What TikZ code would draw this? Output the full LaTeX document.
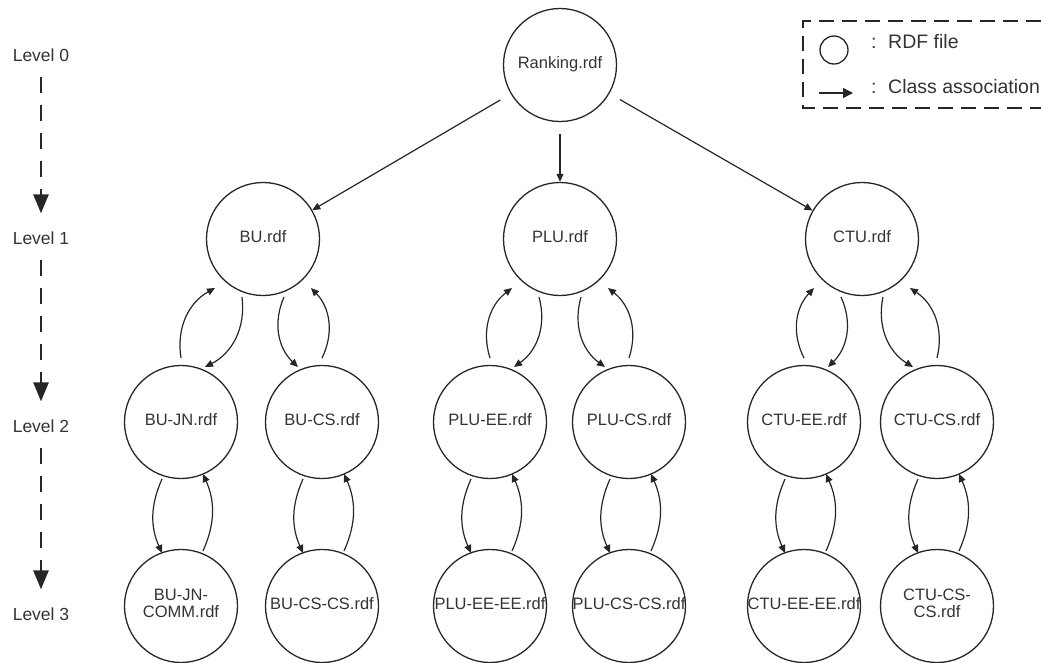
\documentclass[tikz,border=0pt]{standalone}
\usepackage{fontspec}
\setmainfont{Liberation Sans}
\usetikzlibrary{arrows.meta,calc}

% zero-width, centred (possibly two-line) file name inside a circle
\newcommand{\rdfname}[1]{\makebox[0pt][c]{\begin{tabular}{@{}c@{}}#1\end{tabular}}}

\tikzset{
  rdf/.style={circle, draw=black!85, line width=1.3pt, minimum size=113pt,
    inner sep=0pt, text=black!80, font=\fontsize{16.5}{17}\selectfont},
  lvl/.style={inner sep=0pt, text=black!80, font=\fontsize{17.5}{18}\selectfont},
  lvlarrow/.style={black!85, line width=2.6pt, dash pattern=on 16pt off 12pt,
    -{Triangle[length=19pt,width=15pt]}, shorten <=15pt, shorten >=18pt},
  assoc/.style={black!85, line width=1.2pt, -{Triangle[length=8pt,width=7pt]}},
  legendbox/.style={black!85, line width=1.8pt, dash pattern=on 15pt off 8pt},
  legendtext/.style={anchor=base west, inner sep=0pt, text=black!80,
    font=\fontsize{19.5}{20}\selectfont},
}

\begin{document}
\begin{tikzpicture}[x=1pt,y=-1pt]
\useasboundingbox (0,0) rectangle (1041,662);

% ---------- level labels ----------
\node[lvl] (L0) at (41,55)  {Level 0};
\node[lvl] (L1) at (41,238) {Level 1};
\node[lvl] (L2) at (41,426) {Level 2};
\node[lvl] (L3) at (41,614) {Level 3};
\draw[lvlarrow] (L0.south) -- (L1.north);
\draw[lvlarrow] (L1.south) -- (L2.north);
\draw[lvlarrow] (L2.south) -- (L3.north);

% ---------- RDF files ----------
\node[rdf] (R)   at (560,65)  {\rdfname{Ranking.rdf}};

\node[rdf] (BU)  at (263,239) {\rdfname{BU.rdf}};
\node[rdf] (PLU) at (560,239) {\rdfname{PLU.rdf}};
\node[rdf] (CTU) at (862,239) {\rdfname{CTU.rdf}};

\node[rdf] (BUJN)  at (181,422) {\rdfname{BU-JN.rdf}};
\node[rdf] (BUCS)  at (322,422) {\rdfname{BU-CS.rdf}};
\node[rdf] (PLUEE) at (490,422) {\rdfname{PLU-EE.rdf}};
\node[rdf] (PLUCS) at (629,422) {\rdfname{PLU-CS.rdf}};
\node[rdf] (CTUEE) at (804,422) {\rdfname{CTU-EE.rdf}};
\node[rdf] (CTUCS) at (937,422) {\rdfname{CTU-CS.rdf}};

\node[rdf] (BUJNC)  at (181,606) {\rdfname{BU-JN-\\COMM.rdf}};
\node[rdf] (BUCSC)  at (322,606) {\rdfname{BU-CS-CS.rdf}};
\node[rdf] (PLUEEC) at (490,606) {\rdfname{PLU-EE-EE.rdf}};
\node[rdf] (PLUCSC) at (629,606) {\rdfname{PLU-CS-CS.rdf}};
\node[rdf] (CTUEEC) at (804,606) {\rdfname{CTU-EE-EE.rdf}};
\node[rdf] (CTUCSC) at (937,606) {\rdfname{CTU-CS-\\CS.rdf}};

% ---------- level 0 -> level 1 ----------
\foreach \c in {BU,PLU,CTU}
  \draw[assoc, shorten <=12pt] (R) -- (\c);

% ---------- level 1 <-> level 2 ----------
\foreach \p/\l/\r in {BU/BUJN/BUCS, PLU/PLUEE/PLUCS, CTU/CTUEE/CTUCS} {
  \draw[assoc] ($(\l)+(0,-64)$)  to[bend left=35]  ($(\p)+(-48,49)$);
  \draw[assoc] ($(\p)+(-21,58)$) to[bend left=35]  ($(\l)+(24,-55)$);
  \draw[assoc] ($(\p)+(21,58)$)  to[bend right=35] ($(\r)+(-24,-55)$);
  \draw[assoc] ($(\r)+(0,-64)$)  to[bend right=35] ($(\p)+(48,49)$);
}

% ---------- level 2 <-> level 3 ----------
\foreach \p/\c in {BUJN/BUJNC, BUCS/BUCSC, PLUEE/PLUEEC, PLUCS/PLUCSC, CTUEE/CTUEEC, CTUCS/CTUCSC} {
  \draw[assoc] ($(\p)+(-19,57)$) to[bend right=24] ($(\c)+(-19,-53)$);
  \draw[assoc] ($(\c)+(22,-55)$) to[bend right=24] ($(\p)+(22,52)$);
}

% ---------- legend ----------
\draw[legendbox] (1041,21) -- (803,21) -- (803,108) -- (1041,108);
\node[circle, draw=black!85, line width=1.3pt, minimum size=28pt, inner sep=0pt]
  (lcircle) at (834,50) {};
\node[legendtext] (lcolon1) at (871,48) {:};
\node[legendtext] (ltext1)  at (888,48) {RDF file};
\coordinate (la) at (819,93);
\coordinate (lb) at (853,93);
\draw[black!85, line width=1.3pt, -{Triangle[length=10pt,width=10pt]}] (la) -- (lb);
\node[legendtext] (lcolon2) at (871,93) {:};
\node[legendtext] (ltext2)  at (888,93) {Class association};
\end{tikzpicture}
\end{document}
